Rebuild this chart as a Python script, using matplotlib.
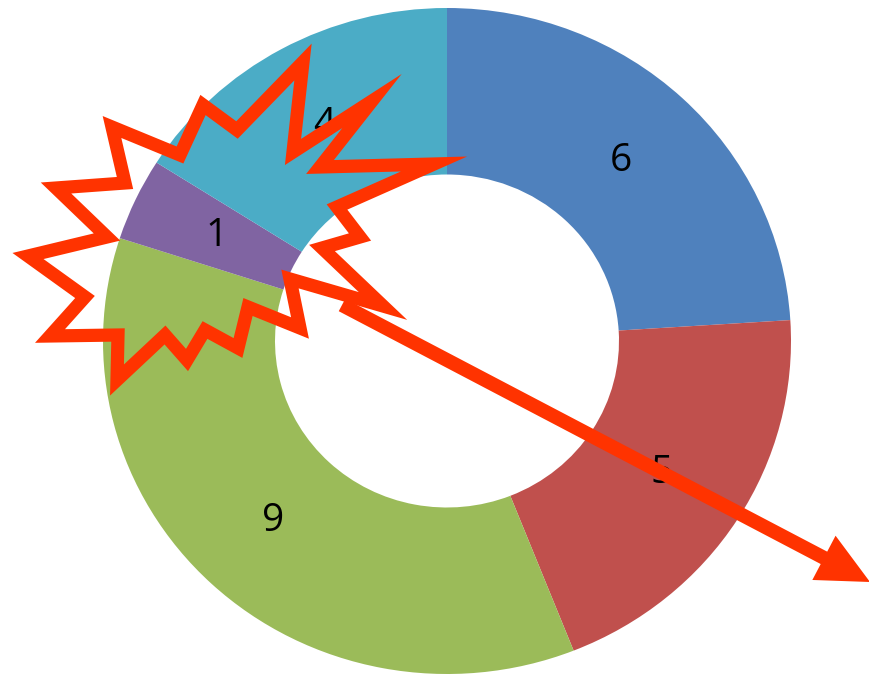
import matplotlib
matplotlib.use("Agg")
import matplotlib.pyplot as plt
from matplotlib.patches import Polygon, FancyArrow

# donut data (clockwise from 12 o'clock)
values = [6, 5, 9, 1, 4]
colors = ['#4F81BD', '#C0504D', '#9BBB59', '#8064A2', '#4BACC6']

# red "explosion" shape and arrow, in pixel coords of the picture
burst_x = [303, 293, 372, 320, 434, 337, 360, 322, 383, 290, 300, 248, 238,
           205, 187, 165, 117, 118, 50, 85, 28, 107, 56, 125, 112, 180, 203, 237]
burst_y = [62, 152, 101, 167, 164, 207, 237, 248, 306, 279, 328, 307, 348,
           330, 360, 335, 380, 335, 336, 297, 256, 237, 188, 183, 127, 155, 105, 130]
arrow_start = (342, 305)
arrow_end = (870, 582)
red = '#FF3300'

W, H = 870, 675
fig = plt.figure(figsize=(W / 100, H / 100), dpi=100)

# donut, slightly wider than tall as in the original
cx, cy, rx, ry = 447, 341, 344, 333
ax = fig.add_axes([(cx - rx) / W, (H - cy - ry) / H, 2 * rx / W, 2 * ry / H])
ax.pie(values, colors=colors, startangle=90, counterclock=False, radius=1,
       wedgeprops=dict(width=0.5, linewidth=0),
       autopct=lambda p: '%d' % round(p * sum(values) / 100),
       pctdistance=0.74, textprops=dict(fontsize=28, color='black', family='Open Sans'))
ax.set_aspect('auto')
ax.set_xlim(-1, 1)
ax.set_ylim(-1, 1)
ax.axis('off')

# overlay with annotations
ov = fig.add_axes([0, 0, 1, 1], zorder=5)
ov.patch.set_alpha(0)
ov.set_xlim(0, W)
ov.set_ylim(H, 0)
ov.axis('off')

ov.add_patch(Polygon(list(zip(burst_x, burst_y)), closed=True, fill=False,
                     edgecolor=red, linewidth=9.5, joinstyle='miter'))
dx = arrow_end[0] - arrow_start[0]
dy = arrow_end[1] - arrow_start[1]
ov.add_patch(FancyArrow(arrow_start[0], arrow_start[1], dx, dy, width=14,
                        head_width=50, head_length=52, length_includes_head=True,
                        color=red, linewidth=0))

fig.savefig('out.png', dpi=100)
